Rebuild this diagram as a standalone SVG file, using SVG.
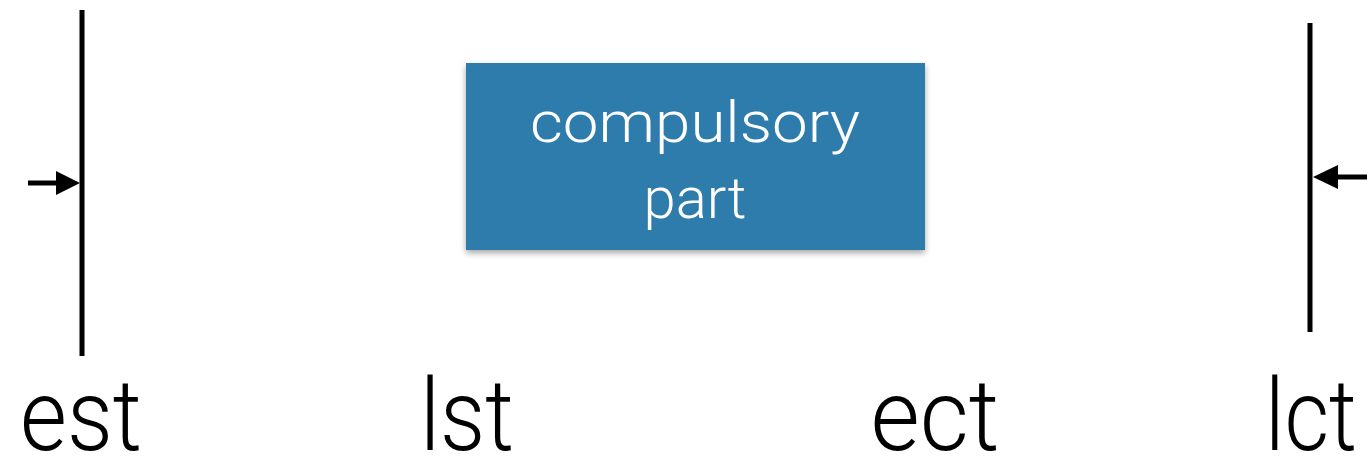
<svg xmlns="http://www.w3.org/2000/svg" width="1367" height="458" viewBox="0 0 1367 458">
<style>
.bar{stroke:#000;stroke-width:5;fill:none}
.shaft{stroke:#000;stroke-width:5;fill:none}
.head{fill:#000}
.lbl{font-family:Roboto,"Liberation Sans",sans-serif;font-weight:300;font-size:100px;fill:#000;text-anchor:middle}
.box{fill:#2f7bab}
.boxtxt{font-family:Roboto,"Liberation Sans",sans-serif;font-weight:300;font-size:58px;fill:#fff;text-anchor:middle}
</style>
<defs>
<filter id="sh" x="-10%" y="-10%" width="120%" height="130%">
<feDropShadow dx="0" dy="3" stdDeviation="3" flood-color="#000" flood-opacity="0.35"/>
</filter>
</defs>
<rect width="1367" height="458" fill="#fff"/>
<g id="est">
<line class="bar" x1="82" y1="10" x2="82" y2="356"/>
<text class="lbl" x="81" y="450" textLength="122" lengthAdjust="spacingAndGlyphs">est</text>
</g>
<g id="lst">
<text class="lbl" x="467" y="450" textLength="94" lengthAdjust="spacingAndGlyphs">lst</text>
</g>
<g id="ect">
<text class="lbl" x="935" y="450" textLength="129" lengthAdjust="spacingAndGlyphs">ect</text>
</g>
<g id="lct">
<line class="bar" x1="1310" y1="23" x2="1310" y2="332"/>
<text class="lbl" x="1311" y="450" textLength="92" lengthAdjust="spacingAndGlyphs">lct</text>
</g>
<g id="compulsory">
<rect class="box" x="466" y="63" width="459" height="187" filter="url(#sh)"/>
<text class="boxtxt" x="695" y="142" textLength="330" lengthAdjust="spacingAndGlyphs">compulsory</text>
<text class="boxtxt" x="695" y="218">part</text>
</g>
<g id="connectors">
<line class="shaft" x1="28" y1="183" x2="60" y2="183"/>
<polygon class="head" points="80,183 56,171 56,195"/>
<line class="shaft" x1="1334" y1="177" x2="1367" y2="177"/>
<polygon class="head" points="1313,177 1338,165 1338,189"/>
</g>
</svg>
